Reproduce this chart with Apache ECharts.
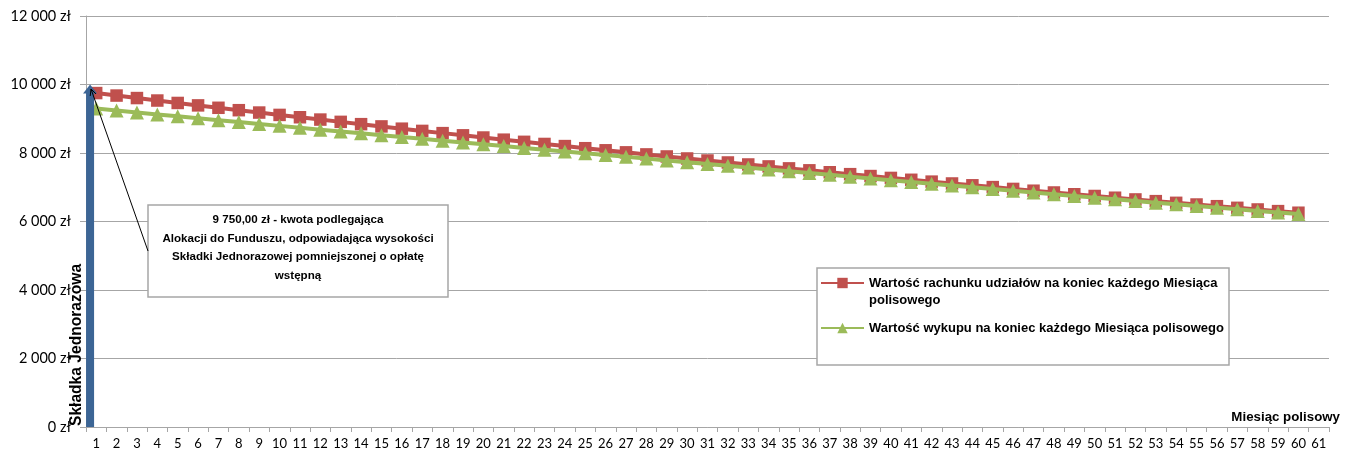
<!DOCTYPE html>
<html>
<head>
<meta charset="utf-8">
<script src="https://cdn.jsdelivr.net/npm/echarts@6/dist/echarts.min.js"></script>
<style>
html,body{margin:0;padding:0;background:#fff;}
#c{width:1349px;height:452px;}
</style>
</head>
<body>
<div id="c"></div>
<script>
// ---------- DATA ----------
const months = ['1','2','3','4','5','6','7','8','9','10','11','12','13','14','15','16','17','18','19','20',
  '21','22','23','24','25','26','27','28','29','30','31','32','33','34','35','36','37','38','39','40',
  '41','42','43','44','45','46','47','48','49','50','51','52','53','54','55','56','57','58','59','60','61'];

const accountValue = [9750,9677,9604,9532,9461,9390,9320,9250,9181,9112,
  9044,8976,8909,8842,8776,8710,8645,8580,8516,8452,
  8389,8326,8264,8202,8140,8079,8019,7959,7899,7840,
  7781,7723,7665,7608,7551,7494,7438,7382,7327,7272,
  7218,7164,7110,7057,7004,6951,6899,6847,6796,6745,
  6694,6644,6594,6545,6496,6447,6399,6351,6303,6256];

const surrenderValue = [9300,9242,9184,9127,9071,9014,8958,8902,8847,8792,
  8737,8682,8628,8574,8520,8466,8413,8360,8307,8254,
  8202,8149,8097,8045,7992,7940,7888,7836,7783,7731,
  7678,7626,7573,7521,7468,7415,7363,7310,7258,7206,
  7155,7103,7051,7000,6949,6898,6847,6797,6747,6697,
  6647,6598,6549,6501,6453,6405,6358,6310,6263,6216];

const singlePremium = [10000];
const yTickValues = [0,2000,4000,6000,8000,10000,12000];

const RED_NAME = 'Wartość rachunku udziałów na koniec każdego Miesiąca polisowego';
const GREEN_NAME = 'Wartość wykupu na koniec każdego Miesiąca polisowego';
const legendLabels = {};
legendLabels[RED_NAME] = '\nWartość rachunku udziałów na koniec każdego Miesiąca\npolisowego';
legendLabels[GREEN_NAME] = 'Wartość wykupu na koniec każdego Miesiąca polisowego';

const annotationText = '9 750,00 zł - kwota podlegająca\nAlokacji do Funduszu, odpowiadająca wysokości\nSkładki Jednorazowej pomniejszonej o opłatę\nwstępną';
const premiumLabel = 'Składka Jednorazowa';
const xAxisName = 'Miesiąc polisowy';

// ---------- STYLE ----------
const FONT = 'Lato, "Liberation Sans", sans-serif';
const BFONT = '"Liberation Sans", sans-serif';
const GRAY = '#a6a6a6';
const RED = '#c0504d';
const GREEN = '#9bbb59';
const BLUE = '#3c6595';
const ARROW_X = 0.2; // position on hidden value axis (0..61 spans the category band)

function fmtZl(v){
  return String(v).replace(/\B(?=(\d{3})+(?!\d))/g, ' ') + ' zł';
}

const chart = echarts.init(document.getElementById('c'));

// annotation callout geometry (pixels)
const tip = [91, 89], tail = [148, 251];
const ang = Math.atan2(tail[1]-tip[1], tail[0]-tip[0]);
const ah = 7, aw = 0.45;
const h1 = [tip[0] + ah*Math.cos(ang+aw), tip[1] + ah*Math.sin(ang+aw)];
const h2 = [tip[0] + ah*Math.cos(ang-aw), tip[1] + ah*Math.sin(ang-aw)];

const option = {
  animation: false,
  grid: {left: 86, right: 20, top: 16, bottom: 25, containLabel: false},
  xAxis: [{
    type: 'category',
    data: months,
    boundaryGap: true,
    axisLine: {lineStyle: {color: GRAY, width: 1}},
    axisTick: {show: true, length: 5, lineStyle: {color: GRAY}},
    axisLabel: {interval: 0, margin: 10, color: '#000', fontSize: 13, fontFamily: FONT},
    splitLine: {show: false},
    name: xAxisName,
    nameLocation: 'end',
    nameGap: 11,
    nameTextStyle: {align: 'right', verticalAlign: 'bottom', padding: [0,0,3,0],
      fontFamily: BFONT, fontWeight: 'bold', fontSize: 13.3, color: '#000'}
  }, {
    type: 'value', min: 0, max: 61, show: false
  }],
  yAxis: {
    type: 'value',
    min: yTickValues[0], max: yTickValues[yTickValues.length-1], interval: 2000,
    axisLine: {show: true, lineStyle: {color: GRAY, width: 1}},
    axisTick: {show: true, length: 6, lineStyle: {color: GRAY}},
    splitLine: {show: true, lineStyle: {color: GRAY, width: 1}},
    axisLabel: {formatter: fmtZl, margin: 15, color: '#000', fontSize: 14.5, fontFamily: FONT}
  },
  legend: {
    orient: 'vertical',
    left: 820,
    top: 257.5,
    padding: 0,
    itemWidth: 43,
    itemHeight: 13,
    itemGap: 11,
    selectedMode: false,
    data: [RED_NAME, GREEN_NAME],
    formatter: function(name){ return legendLabels[name]; },
    textStyle: {fontFamily: BFONT, fontWeight: 'bold', fontSize: 13, color: '#000', lineHeight: 17}
  },
  series: [{
    name: RED_NAME,
    type: 'line',
    data: accountValue,
    symbol: 'rect',
    symbolSize: 12.5,
    showAllSymbol: true,
    lineStyle: {color: RED, width: 4},
    itemStyle: {color: RED},
    z: 2,
    silent: true
  }, {
    name: GREEN_NAME,
    type: 'line',
    data: surrenderValue,
    symbol: 'triangle',
    symbolSize: 14,
    showAllSymbol: true,
    lineStyle: {color: GREEN, width: 4},
    itemStyle: {color: GREEN},
    z: 3,
    silent: true
  }, {
    type: 'custom',
    xAxisIndex: 1,
    yAxisIndex: 0,
    data: singlePremium.map(v => [ARROW_X, v]),
    silent: true,
    z: 5,
    renderItem: function(params, api){
      const x = api.value(0), v = api.value(1);
      const top = api.coord([x, v]);
      const bot = api.coord([x, 0]);
      const sw = 8, hw = 14, hh = 9;
      return {type: 'group', children: [
        {type: 'rect', shape: {x: top[0]-sw/2, y: top[1]+hh-1, width: sw, height: bot[1]-top[1]-hh+1},
          style: {fill: BLUE}},
        {type: 'polygon', shape: {points: [[top[0], top[1]], [top[0]-hw/2, top[1]+hh], [top[0]+hw/2, top[1]+hh]]},
          style: {fill: BLUE}}
      ]};
    }
  }],
  graphic: [
    {type: 'rect', z: 3, shape: {x: 148, y: 205, width: 300, height: 92},
      style: {fill: '#fff', stroke: GRAY, lineWidth: 1.5}},
    {type: 'text', z: 11, x: 298, y: 211,
      style: {text: annotationText, align: 'center', verticalAlign: 'top', lineHeight: 18.5,
        font: 'bold 11.6px ' + BFONT, fill: '#000'}},
    {type: 'line', z: 11, shape: {x1: tail[0], y1: tail[1], x2: tip[0], y2: tip[1]},
      style: {stroke: '#000', lineWidth: 1}},
    {type: 'polyline', z: 11, shape: {points: [h1, tip, h2]},
      style: {stroke: '#000', lineWidth: 1, fill: null}},
    {type: 'rect', z: 3, shape: {x: 817, y: 268, width: 412, height: 97},
      style: {fill: '#fff', stroke: GRAY, lineWidth: 1.5}},
    {type: 'text', z: 11, x: 77, y: 426, rotation: Math.PI/2,
      style: {text: premiumLabel, align: 'left', verticalAlign: 'middle',
        font: 'bold 15.6px ' + BFONT, fill: '#000'}}
  ]
};
chart.setOption(option);
</script>
</body>
</html>
